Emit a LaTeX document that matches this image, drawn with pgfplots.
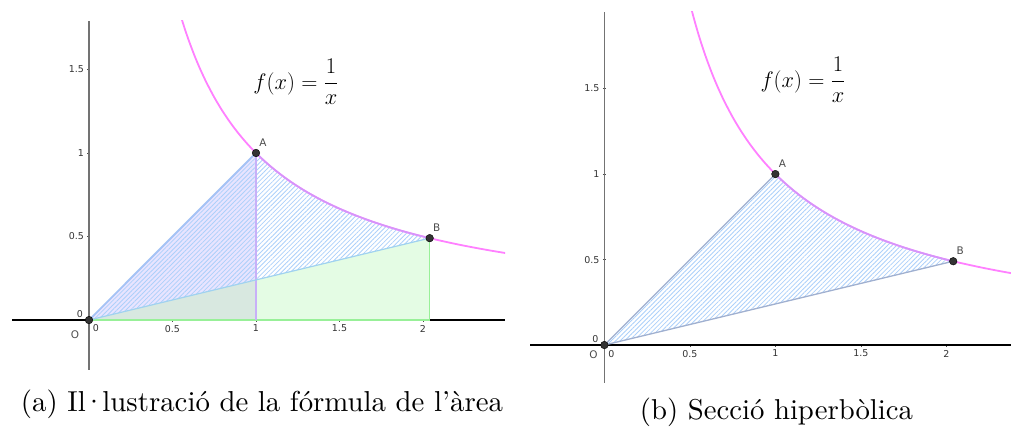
\documentclass[border=0pt]{standalone}
\usepackage{fix-cm}
\usepackage{fontspec}
\usepackage{graphicx}
\usepackage{pgfplots}
\usepackage{pgfplotstable}
\pgfplotsset{compat=1.18}
\usetikzlibrary{patterns.meta}
\newfontfamily\ggb{DejaVu Sans}
\newfontfamily\capfont{lmroman10-regular.otf}
\definecolor{pinkc}{RGB}{255,128,255}
\definecolor{purpc}{RGB}{212,150,250}
\definecolor{hatch}{RGB}{172,208,250}
\definecolor{oaedge}{RGB}{165,195,245}
\definecolor{obedge}{RGB}{160,210,240}
\definecolor{lav}{RGB}{232,228,255}
\definecolor{lavedge}{RGB}{200,176,248}
\definecolor{overlap}{RGB}{216,232,224}
\definecolor{grn}{RGB}{228,252,228}
\definecolor{grnedge}{RGB}{152,240,152}
\definecolor{ptc}{RGB}{51,51,51}
\definecolor{bedge}{RGB}{160,176,208}
\tikzset{ptlabel/.style={font=\ggb\fontsize{10.5}{12}\selectfont, text=black!70},
  zlabel/.style={font=\ggb\fontsize{9.5}{11}\selectfont, text=black!80}}

\pgfplotstableread{
x y
0.50 2.0000
0.52 1.9231
0.54 1.8519
0.56 1.7857
0.58 1.7241
0.60 1.6667
0.63 1.5873
0.66 1.5152
0.70 1.4286
0.75 1.3333
0.80 1.2500
0.85 1.1765
0.90 1.1111
0.95 1.0526
1.00 1.0000
1.05 0.9524
1.10 0.9091
1.15 0.8696
1.20 0.8333
1.25 0.8000
1.30 0.7692
1.35 0.7407
1.40 0.7143
1.45 0.6897
1.50 0.6667
1.55 0.6452
1.60 0.6250
1.65 0.6061
1.70 0.5882
1.75 0.5714
1.80 0.5556
1.85 0.5405
1.90 0.5263
1.95 0.5128
2.00 0.5000
2.04 0.4902
2.10 0.4762
2.20 0.4545
2.30 0.4348
2.40 0.4167
2.50 0.4000
}\curvetab

\pgfplotstableread{
x y
1.00 1.0000
1.05 0.9524
1.10 0.9091
1.15 0.8696
1.20 0.8333
1.25 0.8000
1.30 0.7692
1.35 0.7407
1.40 0.7143
1.45 0.6897
1.50 0.6667
1.55 0.6452
1.60 0.6250
1.65 0.6061
1.70 0.5882
1.75 0.5714
1.80 0.5556
1.85 0.5405
1.90 0.5263
1.95 0.5128
2.00 0.5000
2.04 0.4902
}\arctab

\pgfplotsset{ggbaxis/.style={
  scale only axis, axis lines=middle, axis line style={-},
  x axis line style={black, line width=1.1bp},
  y axis line style={black!55, line width=1.6bp},
  xtick={0.5,1,1.5,2}, ytick={0.5,1,1.5},
  major tick length=3bp,
  tick style={black!70, line width=0.6bp},
  ticklabel style={font=\ggb\fontsize{9.5}{11}\selectfont, text=black!80},
  /pgf/number format/assume math mode=true,
}}

\begin{document}
\begin{tikzpicture}
\useasboundingbox (0,0) rectangle (1011bp,427bp);

% ---------- panel (a)
\begin{axis}[ggbaxis, at={(12bp,57bp)}, anchor=south west,
  width=493bp, height=349bp,
  xmin=-0.461, xmax=2.491, ymin=-0.299, ymax=1.790]
\addplot[fill=grn, draw=none] coordinates {(0,0) (2.04,0.4902) (2.04,0)} -- cycle;
\addplot[fill=overlap, draw=none] coordinates {(0,0) (1,0.2403) (1,0)} -- cycle;
\addplot[fill=lav, draw=none] coordinates {(0,0) (1,1) (1,0.2403)} -- cycle;
\addplot[draw=none, pattern={Lines[angle=45,distance=3.2bp,line width=0.8bp]}, pattern color=hatch]
  coordinates {(0,0) (1,1) (1.05,0.9524) (1.10,0.9091) (1.15,0.8696) (1.20,0.8333) (1.25,0.8000)
  (1.30,0.7692) (1.35,0.7407) (1.40,0.7143) (1.45,0.6897) (1.50,0.6667) (1.55,0.6452) (1.60,0.6250)
  (1.65,0.6061) (1.70,0.5882) (1.75,0.5714) (1.80,0.5556) (1.85,0.5405) (1.90,0.5263) (1.95,0.5128)
  (2.00,0.5000) (2.04,0.4902)} -- cycle;
\addplot[grnedge, line width=1.2bp] coordinates {(0,0) (2.04,0) (2.04,0.4902)};
\addplot[lavedge, line width=1.2bp] coordinates {(1,0) (1,1)};
\addplot[obedge, line width=1.2bp] coordinates {(0,0) (2.04,0.4902)};
\addplot[oaedge, line width=1.8bp] coordinates {(0,0) (1,1)};
\addplot[pinkc, line width=1.8bp, smooth] table {\curvetab};
\addplot[purpc, line width=1.6bp, smooth] table {\arctab};
\addplot[only marks, mark=*, mark size=3.8bp, mark options={fill=ptc, draw=black, line width=0.4bp}]
  coordinates {(0,0) (1,1) (2.04,0.4902)};
\node[ptlabel] at (axis cs:1,1) [xshift=7bp, yshift=10bp] {A};
\node[ptlabel] at (axis cs:2.04,0.4902) [xshift=7bp, yshift=10bp] {B};
\node[ptlabel] at (axis cs:0,0) [xshift=-14bp, yshift=-15bp] {O};
\node[zlabel] at (axis cs:0,0) [xshift=-9bp, yshift=6bp] {0};
\node[zlabel] at (axis cs:0,0) [xshift=7bp, yshift=-8bp] {0};
\end{axis}

% ---------- panel (b)
\begin{axis}[ggbaxis, at={(530bp,44bp)}, anchor=south west,
  width=481bp, height=371bp,
  xmin=-0.435, xmax=2.378, ymin=-0.222, ymax=1.948]
\addplot[draw=none, pattern={Lines[angle=45,distance=3.2bp,line width=0.8bp]}, pattern color=hatch]
  coordinates {(0,0) (1,1) (1.05,0.9524) (1.10,0.9091) (1.15,0.8696) (1.20,0.8333) (1.25,0.8000)
  (1.30,0.7692) (1.35,0.7407) (1.40,0.7143) (1.45,0.6897) (1.50,0.6667) (1.55,0.6452) (1.60,0.6250)
  (1.65,0.6061) (1.70,0.5882) (1.75,0.5714) (1.80,0.5556) (1.85,0.5405) (1.90,0.5263) (1.95,0.5128)
  (2.00,0.5000) (2.04,0.4902)} -- cycle;
\addplot[bedge, line width=1.3bp] coordinates {(0,0) (1,1)};
\addplot[bedge, line width=1.3bp] coordinates {(0,0) (2.04,0.4902)};
\addplot[pinkc, line width=1.8bp, smooth] table {\curvetab};
\addplot[purpc, line width=1.6bp, smooth] table {\arctab};
\addplot[only marks, mark=*, mark size=3.8bp, mark options={fill=ptc, draw=black, line width=0.4bp}]
  coordinates {(0,0) (1,1) (2.04,0.4902)};
\node[ptlabel] at (axis cs:1,1) [xshift=7bp, yshift=10bp] {A};
\node[ptlabel] at (axis cs:2.04,0.4902) [xshift=7bp, yshift=11bp] {B};
\node[ptlabel] at (axis cs:0,0) [xshift=-11bp, yshift=-10bp] {O};
\node[zlabel] at (axis cs:0,0) [xshift=-9bp, yshift=6bp] {0};
\node[zlabel] at (axis cs:0,0) [xshift=7bp, yshift=-9bp] {0};
\end{axis}

% formulas and captions
\node[font=\fontsize{22.5}{27}\selectfont] at (296bp,345bp) {$\displaystyle f(x)=\frac{1}{x}$};
\node[font=\fontsize{22.5}{27}\selectfont] at (803bp,347bp) {$\displaystyle f(x)=\frac{1}{x}$};
\node[inner sep=0pt, anchor=base] at (262bp,16bp) {\resizebox{482bp}{!}{\capfont\fontsize{10}{12}\selectfont (a) Il\kern-0.1em·\kern-0.1em lustració de la fórmula de l’àrea}};
\node[inner sep=0pt, anchor=base] at (776.5bp,8bp) {\resizebox{273bp}{!}{\capfont\fontsize{10}{12}\selectfont (b) Secció hiperbòlica}};
\end{tikzpicture}
\end{document}
